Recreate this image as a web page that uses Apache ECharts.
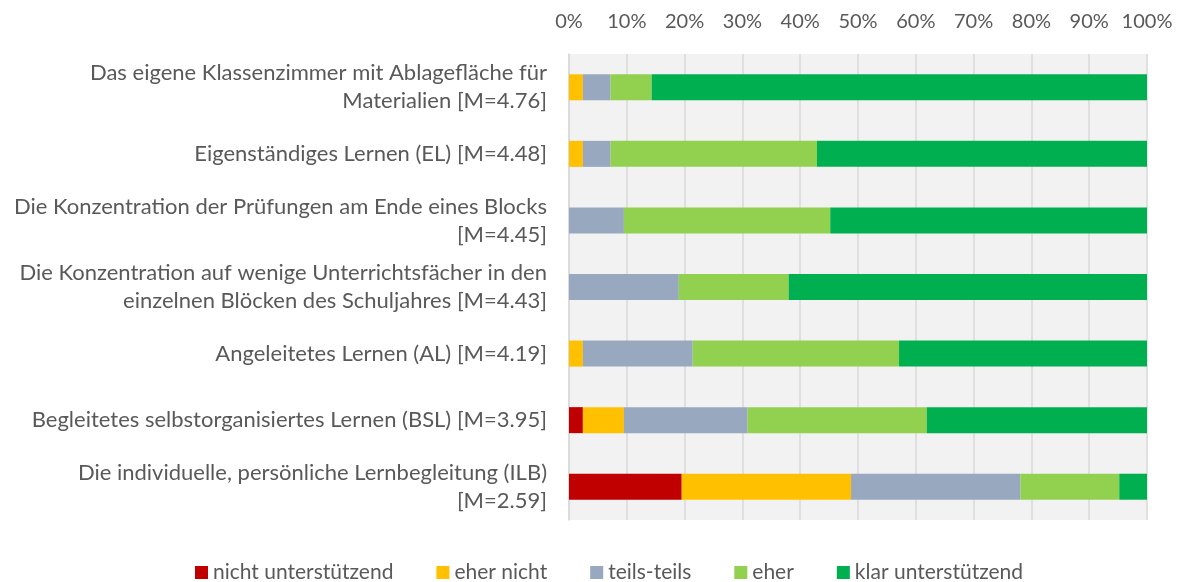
<!DOCTYPE html>
<html>
<head>
<meta charset="utf-8">
<script src="https://cdn.jsdelivr.net/npm/echarts@6/dist/echarts.min.js"></script>
<style>
  html, body { margin: 0; padding: 0; background: #fff; }
  #chart { width: 1180px; height: 582px; }
</style>
</head>
<body>
<div id="chart"></div>
<script>
// categories, top to bottom
var categories = [
    'Das eigene Klassenzimmer mit Ablagefläche für\nMaterialien [M=4.76]',
    'Eigenständiges Lernen (EL) [M=4.48]',
    'Die Konzentration der Prüfungen am Ende eines Blocks\n[M=4.45]',
    'Die Konzentration auf wenige Unterrichtsfächer in den\neinzelnen Blöcken des Schuljahres [M=4.43]',
    'Angeleitetes Lernen (AL) [M=4.19]',
    'Begleitetes selbstorganisiertes Lernen (BSL) [M=3.95]',
    'Die individuelle, persönliche Lernbegleitung (ILB)\n[M=2.59]'
];

// shares in percent
var nichtUnterstuetzend = [0, 0, 0, 0, 0, 2.4, 19.5];
var eherNicht = [2.4, 2.4, 0, 0, 2.4, 7.1, 29.3];
var teilsTeils = [4.8, 4.8, 9.5, 19.0, 19.0, 21.4, 29.3];
var eher = [7.1, 35.7, 35.7, 19.0, 35.7, 31.0, 17.1];
var klarUnterstuetzend = [85.7, 57.1, 54.8, 62.0, 42.9, 38.1, 4.8];

var seriesNames = ['nicht unterstützend', 'eher nicht', 'teils-teils', 'eher', 'klar unterstützend'];
var seriesData = [nichtUnterstuetzend, eherNicht, teilsTeils, eher, klarUnterstuetzend];
var colors = ['#c00000', '#ffc000', '#98a8bf', '#92d050', '#00b050'];

var font = 'Lato';
var textColor = '#595959';

var chart = echarts.init(document.getElementById('chart'), null, {renderer: 'canvas'});

var series = seriesNames.map(function (name, i) {
    return {
        name: name,
        type: 'bar',
        stack: 'total',
        barWidth: 26,
        data: seriesData[i],
        itemStyle: {color: colors[i]},
        emphasis: {disabled: true}
    };
});

chart.setOption({
    animation: false,
    color: colors,
    textStyle: {fontFamily: font},
    grid: {
        left: 569, right: 33, top: 54, bottom: 62,
        show: true, backgroundColor: '#f2f2f2', borderWidth: 0
    },
    legend: {
        top: 557,
        left: 190,
        icon: 'rect',
        itemWidth: 13,
        itemHeight: 13,
        itemGap: 43,
        textStyle: {color: textColor, fontSize: 21, fontFamily: font}
    },
    xAxis: {
        type: 'value',
        position: 'top',
        min: 0,
        max: 100,
        interval: 10,
        axisLine: {show: false},
        axisTick: {show: false},
        axisLabel: {
            formatter: '{value}%',
            color: textColor,
            fontSize: 20,
            margin: 22
        },
        splitLine: {lineStyle: {color: '#d9d9d9', width: 1.5}}
    },
    yAxis: {
        type: 'category',
        inverse: true,
        data: categories,
        axisLine: {show: true, lineStyle: {color: '#d9d9d9', width: 1.5}},
        axisTick: {show: false},
        axisLabel: {
            color: textColor,
            fontSize: 22,
            lineHeight: 28,
            align: 'right',
            margin: 22
        }
    },
    series: series
});
</script>
</body>
</html>
